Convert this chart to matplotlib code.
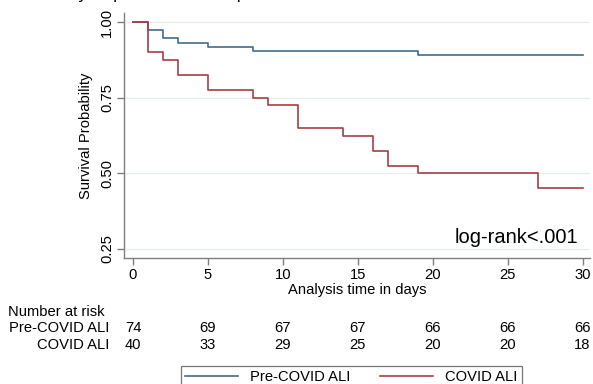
import matplotlib
matplotlib.use("Agg")
import matplotlib.pyplot as plt
import matplotlib.transforms as mtransforms

plt.rcParams['font.family'] = ['Liberation Sans', 'DejaVu Sans']

# ---- data ----
title_text = "30-day Kaplan-Meier Comparison of Pre-COVID and COVID ALI Survival"
group_names = ["Pre-COVID ALI", "COVID ALI"]
pre_times = [0, 1, 2, 3, 5, 8, 19, 30]
pre_surv = [1.0, 0.973, 0.946, 0.932, 0.919, 0.905, 0.892, 0.892]
covid_times = [0, 1, 2, 3, 5, 8, 9, 11, 14, 16, 17, 19, 27, 30]
covid_surv = [1.0, 0.90, 0.875, 0.825, 0.775, 0.75, 0.725, 0.65, 0.625,
              0.575, 0.525, 0.50, 0.45, 0.45]
risk_times = [0, 5, 10, 15, 20, 25, 30]
pre_risk = [74, 69, 67, 67, 66, 66, 66]
covid_risk = [40, 33, 29, 25, 20, 20, 18]
y_ticks = [0.25, 0.50, 0.75, 1.00]
x_ticks = [0, 5, 10, 15, 20, 25, 30]

blue = '#3f6b8e'
red = '#a63e45'
spine_col = '#7f7f7f'
fs = 10.6

W, H = 593, 384
fig = plt.figure(figsize=(W / 100, H / 100), dpi=100)
ax = fig.add_axes([124 / W, 1 - 258 / H, (590 - 124) / W, (258 - 13) / H])

l1, = ax.step(pre_times, pre_surv, where='post', color=blue, lw=1.2, label=group_names[0])
l2, = ax.step(covid_times, covid_surv, where='post', color=red, lw=1.2, label=group_names[1])

ax.set_xlim(-0.6, 30.5)
ax.set_ylim(0.22, 1.03)
ax.set_yticks(y_ticks)
ax.set_yticklabels([f"{v:.2f}" for v in y_ticks], rotation=90, va='center')
ax.set_xticks(x_ticks)
ax.grid(axis='y', color='#e4ecee', lw=0.8)
ax.set_axisbelow(True)
for s in ['top', 'right']:
    ax.spines[s].set_visible(False)
for s in ['left', 'bottom']:
    ax.spines[s].set_color(spine_col)
    ax.spines[s].set_linewidth(1.0)
ax.tick_params(axis='both', colors=spine_col, labelcolor='black', labelsize=fs,
               length=5, width=1.0)
ax.tick_params(axis='y', pad=2)
ax.tick_params(axis='x', pad=2)
ax.set_ylabel("Survival Probability", fontsize=fs, labelpad=5)
ax.set_xlabel("Analysis time in days", fontsize=fs, labelpad=1)

ax.text(29.7, 0.256, "log-rank<.001", ha='right', va='bottom', fontsize=14.5)

# title (cropped at the top in the reference)
fig.text(315 / W, 1 + 1 / H, title_text, ha='center', va='baseline', fontsize=12.5)

# risk table
trans = mtransforms.blended_transform_factory(ax.transData, fig.transFigure)
fig.text(8 / W, 1 - 312 / H, "Number at risk", ha='left', va='center', fontsize=fs)
fig.text(109 / W, 1 - 328 / H, group_names[0], ha='right', va='center', fontsize=fs)
fig.text(109 / W, 1 - 345 / H, group_names[1], ha='right', va='center', fontsize=fs)
for t, a, b in zip(risk_times, pre_risk, covid_risk):
    fig.text(t, 1 - 328 / H, str(a), ha='center', va='center', fontsize=fs, transform=trans)
    fig.text(t, 1 - 345 / H, str(b), ha='center', va='center', fontsize=fs, transform=trans)

leg = fig.legend(handles=[l1, l2], loc='upper left',
                 bbox_to_anchor=(181 / W, 1 - 366 / H), borderaxespad=0, ncol=2,
                 fontsize=fs, frameon=True, fancybox=False, handlelength=3.6,
                 columnspacing=2.0, borderpad=0.3, handletextpad=0.8)
leg.get_frame().set_edgecolor('#555555')
leg.get_frame().set_linewidth(0.9)

fig.savefig("out.png", dpi=100)
